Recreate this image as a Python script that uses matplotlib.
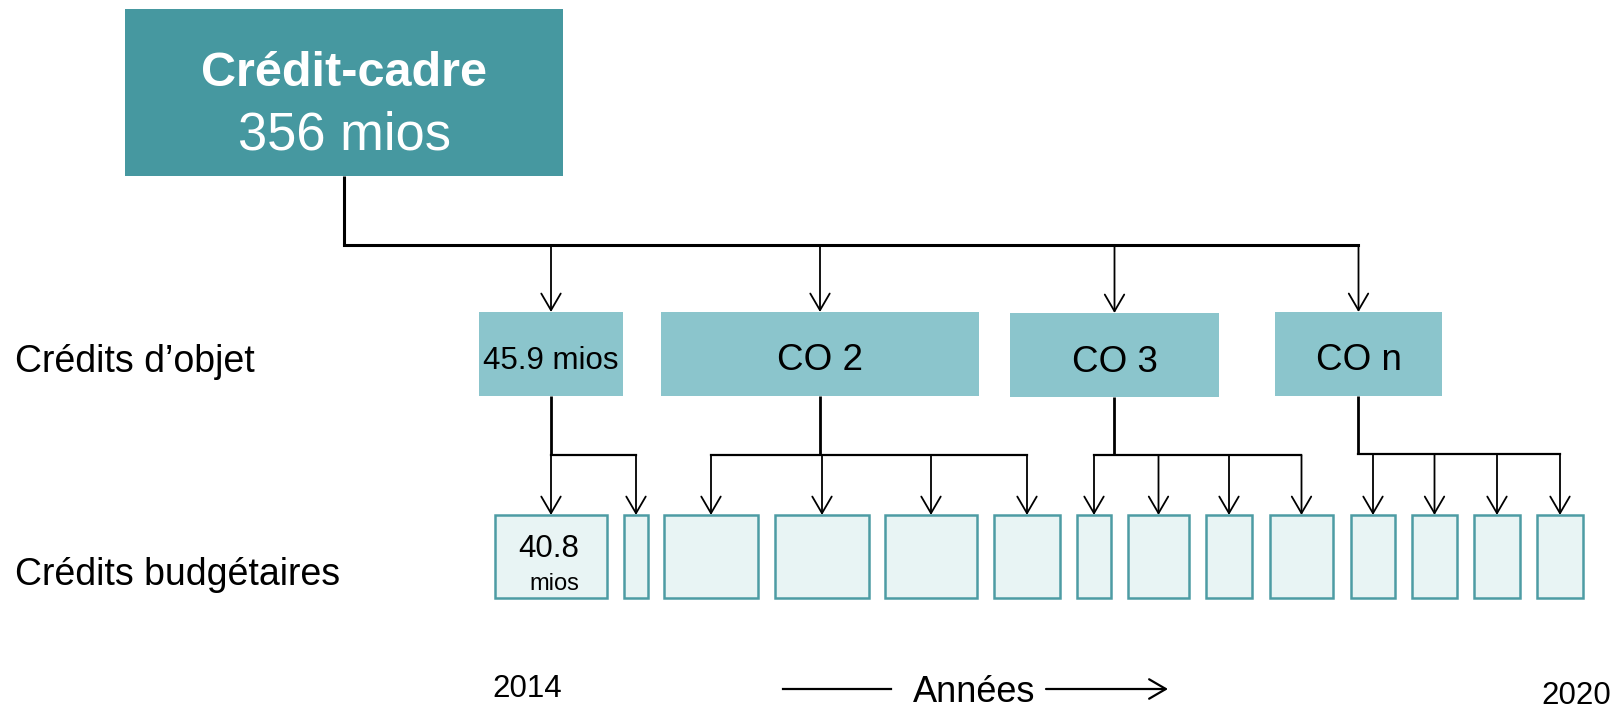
import matplotlib
matplotlib.use("Agg")
import matplotlib.pyplot as plt
from matplotlib.patches import Rectangle, FancyArrowPatch

plt.rcParams['font.family'] = ['Liberation Sans', 'DejaVu Sans']

# ---- content ----
top_title = "Crédit-cadre"
top_value = "356 mios"
co_labels = ["45.9 mios", "CO 2", "CO 3", "CO n"]
cb_labels = ["40.8", "", "", "", "", "", "", "", "", "", "", "", "", ""]
cb_sublabels = ["mios", "", "", "", "", "", "", "", "", "", "", "", "", ""]
cb_parent = [0, 0, 1, 1, 1, 1, 2, 2, 2, 2, 3, 3, 3, 3]
row_labels = ["Crédits d\u2019objet", "Crédits budgétaires"]
year_start, year_end = "2014", "2020"
axis_label = "Années"

# ---- layout (pixel space) ----
top_box = (125, 9, 563, 176)
co_left = [479, 661, 1010, 1275]
co_right = [623, 979, 1219, 1442]
co_top = [312, 312, 313, 312]
co_bot = [396, 396, 397, 396]
cb_left = [495, 624, 664, 775, 885, 994, 1077, 1128, 1206, 1270, 1351, 1412, 1474, 1537]
cb_right = [607, 648, 758, 869, 977, 1060, 1111, 1189, 1252, 1333, 1395, 1457, 1520, 1583]
cb_top, cb_bot = 515, 598
bus_y = 245
branch_y = [455, 455, 455, 454]

c_top = "#4698A0"
c_co = "#8BC5CC"
c_cb_face = "#E8F4F4"
c_cb_edge = "#4D9CA4"

fig = plt.figure(figsize=(16.18, 7.10), dpi=100)
ax = fig.add_axes([0, 0, 1, 1])
ax.set_xlim(0, 1618)
ax.set_ylim(710, 0)
ax.axis("off")

def arrow(x0, y0, x1, y1, lw=1.3):
    ax.add_patch(FancyArrowPatch((x0, y0), (x1, y1),
                                 arrowstyle="->,head_length=12,head_width=7",
                                 mutation_scale=1, lw=lw, color="black",
                                 shrinkA=0, shrinkB=0))

# top box
x0, y0, x1, y1 = top_box
ax.add_patch(Rectangle((x0, y0), x1 - x0, y1 - y0, facecolor=c_top, edgecolor="none"))
tcx = (x0 + x1) / 2
ax.text(tcx, 74, top_title, ha="center", va="center", color="white",
        fontsize=35, fontweight="bold")
ax.text(tcx + 1, 135, top_value, ha="center", va="center", color="white", fontsize=37.8)

# bus
co_cx = [(l + r) / 2 for l, r in zip(co_left, co_right)]
vx = 344
ax.plot([vx, vx], [y1, bus_y], color="black", lw=2.2, solid_capstyle="butt")
ax.plot([vx, co_cx[-1]], [bus_y, bus_y], color="black", lw=2.2, solid_capstyle="projecting")
for cx, ct in zip(co_cx, co_top):
    arrow(cx, bus_y, cx, ct)

# CO boxes
for i, (l, r, t, b) in enumerate(zip(co_left, co_right, co_top, co_bot)):
    ax.add_patch(Rectangle((l, t), r - l, b - t, facecolor=c_co, edgecolor="none"))
    fs = 22.5 if i == 0 else 26.5
    ax.text((l + r) / 2, (t + b) / 2 + 7, co_labels[i], ha="center", va="center",
            fontsize=fs, color="black")

# branches + budget boxes
cb_cx = [(l + r) / 2 for l, r in zip(cb_left, cb_right)]
for p in range(len(co_labels)):
    kids = [cb_cx[k] for k in range(len(cb_cx)) if cb_parent[k] == p]
    by = branch_y[p]
    ax.plot([co_cx[p], co_cx[p]], [co_bot[p], by], color="black", lw=2.0,
            solid_capstyle="butt")
    xs = kids + [co_cx[p]]
    ax.plot([min(xs), max(xs)], [by, by], color="black", lw=1.6,
            solid_capstyle="projecting")
    for kx in kids:
        arrow(kx, by, kx, cb_top)

for i, (l, r) in enumerate(zip(cb_left, cb_right)):
    ax.add_patch(Rectangle((l, cb_top), r - l, cb_bot - cb_top, facecolor=c_cb_face,
                           edgecolor=c_cb_edge, lw=1.8))
    if cb_labels[i]:
        ax.text((l + r) / 2 - 2, 549, cb_labels[i], ha="center", va="center",
                fontsize=22.5, color="black")
        ax.text((l + r) / 2 + 3, 584, cb_sublabels[i], ha="center", va="center",
                fontsize=17, color="black")

# row labels
ax.text(15, 362, row_labels[0], ha="left", va="center", fontsize=27, color="black")
ax.text(15, 575, row_labels[1], ha="left", va="center", fontsize=27, color="black")

# time axis
ax.text(527, 689, year_start, ha="center", va="center", fontsize=22.5, color="black")
ax.text(1576, 696, year_end, ha="center", va="center", fontsize=22.5, color="black")
ax.text(974, 693, axis_label, ha="center", va="center", fontsize=26, color="black")
ax.plot([783, 891], [689, 689], color="black", lw=1.6)
arrow(1046, 689, 1168, 689, lw=1.6)

fig.savefig("out.png", dpi=100, facecolor="white")
